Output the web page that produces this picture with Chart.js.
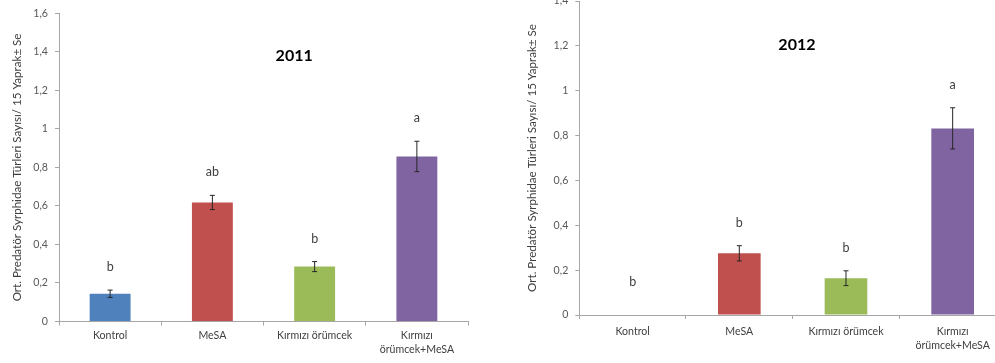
<!DOCTYPE html>
<html>
<head>
<meta charset="utf-8">
<script src="https://cdn.jsdelivr.net/npm/chart.js@4/dist/chart.umd.min.js"></script>
<style>
  html, body { margin: 0; padding: 0; width: 995px; height: 363px; overflow: hidden; background: #fff; }
  #c2011 { position: absolute; left: 0; top: 0; width: 480px; height: 363px; }
  #c2012 { position: absolute; left: 500px; top: -20px; width: 520px; height: 383px; }
</style>
</head>
<body>
<canvas id="c2011" width="480" height="363"></canvas>
<canvas id="c2012" width="520" height="383"></canvas>
<script>
// Treatments on the category axis
const categories = ['Kontrol', 'MeSA', 'Kırmızı örümcek', ['Kırmızı', 'örümcek+MeSA']];

// 2011: mean predator Syrphidae per 15 leaves, standard error and significance letters
const means2011 = [0.144, 0.618, 0.285, 0.857];
const se2011 = [0.019, 0.037, 0.026, 0.079];
const letters2011 = ['b', 'ab', 'b', 'a'];

// 2012
const means2012 = [0, 0.275, 0.164, 0.832];
const se2012 = [0, 0.034, 0.033, 0.092];
const letters2012 = ['b', 'b', 'b', 'a'];

// Y axis ranges
const yMax2011 = 1.6;
const yMax2012 = 1.4;
const yStep = 0.2;

const barColors = ['#4F81BD', '#C0504D', '#9BBB59', '#8064A2'];
const yTitle = 'Ort. Predatör Syrphidae Türleri Sayısı/ 15 Yaprak± Se';
const FONT = 'Lato, "Open Sans", sans-serif';

function commaTick(v) {
  return String(Number(v.toFixed(1))).replace('.', ',');
}

// Error bars, significance letters and the year heading drawn on top of the bars
const annotate = {
  id: 'annotate',
  afterDatasetsDraw(chart, args, opts) {
    const { ctx, chartArea } = chart;
    const ys = chart.scales.y;
    const meta = chart.getDatasetMeta(0);
    ctx.save();
    opts.means.forEach((m, i) => {
      const bar = meta.data[i];
      const x = bar.x;
      const e = opts.se[i];
      if (e > 0) {
        const yTop = ys.getPixelForValue(m + e);
        const yBot = ys.getPixelForValue(m - e);
        ctx.strokeStyle = '#262626';
        ctx.lineWidth = 1;
        ctx.beginPath();
        ctx.moveTo(x, yTop); ctx.lineTo(x, yBot);
        ctx.moveTo(x - 2.5, yTop); ctx.lineTo(x + 2.5, yTop);
        ctx.moveTo(x - 2.5, yBot); ctx.lineTo(x + 2.5, yBot);
        ctx.stroke();
      }
      const ly = Math.min(ys.getPixelForValue(m + e) - 23, ys.getPixelForValue(0) - 33);
      ctx.fillStyle = '#404040';
      ctx.font = '12.5px ' + FONT;
      ctx.textAlign = 'center';
      ctx.textBaseline = 'middle';
      ctx.fillText(opts.letters[i], x, ly);
    });
    ctx.fillStyle = '#000';
    ctx.font = 'bold 16px ' + FONT;
    ctx.textAlign = 'center';
    ctx.textBaseline = 'middle';
    const tx = chartArea.left + opts.headX * (chartArea.right - chartArea.left);
    const ty = chartArea.top + opts.headY * (chartArea.bottom - chartArea.top);
    ctx.fillText(opts.heading, tx, ty);
    ctx.restore();
  }
};

function makeChart(id, means, se, letters, yMax, cfg) {
  return new Chart(document.getElementById(id), {
    type: 'bar',
    data: {
      labels: categories,
      datasets: [{
        data: means,
        backgroundColor: barColors,
        borderWidth: 0,
        barPercentage: 0.4,
        categoryPercentage: 1
      }]
    },
    options: {
      responsive: false,
      animation: false,
      layout: { padding: cfg.padding },
      plugins: {
        legend: { display: false },
        tooltip: { enabled: false },
        annotate: { means, se, letters, heading: cfg.heading, headX: cfg.headX, headY: cfg.headY }
      },
      scales: {
        x: {
          offset: true,
          grid: { offset: true, drawOnChartArea: false, drawTicks: true, tickLength: 4, color: '#A6A6A6' },
          border: { color: '#A6A6A6', width: 1 },
          ticks: { color: '#404040', font: { family: FONT, size: 10.6, lineHeight: 1.35 }, padding: cfg.xPad, maxRotation: 0, autoSkip: false },
          afterFit(scale) { scale.height = cfg.xHeight; }
        },
        y: {
          min: 0,
          max: yMax,
          ticks: { stepSize: yStep, color: '#595959', font: { family: FONT, size: 10.6 }, padding: 7, callback: v => commaTick(v) },
          grid: { drawOnChartArea: false, drawTicks: true, tickLength: 4, color: '#A6A6A6' },
          border: { color: '#A6A6A6', width: 1 },
          title: { display: true, text: yTitle, color: '#404040', font: { family: FONT, size: 11.6 }, padding: { top: cfg.titlePad, bottom: 0 } },
          afterFit(scale) { scale.width = cfg.yWidth; }
        }
      }
    },
    plugins: [annotate]
  });
}

makeChart('c2011', means2011, se2011, letters2011, yMax2011, {
  padding: { top: 12, right: 12, left: 0, bottom: 0 },
  xHeight: 41.5, yWidth: 59, xPad: 3, titlePad: 10,
  heading: '2011', headX: 0.575, headY: 0.139
});

makeChart('c2012', means2012, se2012, letters2012, yMax2012, {
  padding: { top: 21, right: 14, left: 0, bottom: 0 },
  xHeight: 48, yWidth: 79.3, xPad: 5, titlePad: 25,
  heading: '2012', headX: 0.51, headY: 0.14
});
</script>
</body>
</html>
